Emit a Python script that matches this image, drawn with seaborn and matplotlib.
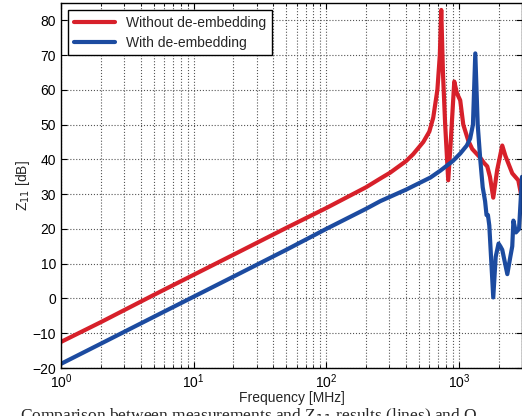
import numpy as np
import pandas as pd
import matplotlib
matplotlib.use("Agg")
import matplotlib.pyplot as plt
from matplotlib.ticker import LogLocator, MultipleLocator, NullFormatter
import seaborn as sns

# Input impedance Z11 versus frequency, before and after de-embedding
freq_without = [1, 2, 5, 10, 20, 50, 100, 200, 256, 304, 400, 453, 540, 600, 642,
                690, 720, 738, 760, 790, 833, 870, 925, 970, 1026, 1082, 1180,
                1264, 1453, 1550, 1641, 1720, 1821, 1950, 2129, 2250, 2533, 2813,
                2950, 3000]
z11_without = [-12.5, -6.8, 1.0, 6.8, 12.6, 20.3, 26.0, 32.0, 34.5, 36.2, 39.5,
               41.5, 45.0, 48.0, 52.0, 60.0, 70.0, 83.0, 65.0, 50.0, 34.0, 45.0,
               62.4, 59.0, 57.0, 50.0, 45.4, 43.0, 40.5, 39.0, 38.0, 35.0, 29.0,
               37.0, 44.0, 41.0, 36.0, 34.0, 30.0, 31.0]

freq_with = [1, 2, 5, 10, 20, 50, 100, 200, 256, 400, 612, 728, 900, 1026, 1150,
             1219, 1280, 1333, 1390, 1453, 1516, 1580, 1620, 1660, 1700, 1821,
             1900, 1997, 2060, 2129, 2325, 2450, 2533, 2584, 2700, 2850, 3000]
z11_with = [-18.8, -13.0, -5.3, 0.5, 6.3, 14.0, 20.0, 25.8, 28.0, 31.3, 34.8,
            36.8, 39.5, 41.7, 44.0, 46.0, 50.0, 70.5, 50.0, 40.0, 32.0, 28.0,
            24.0, 24.0, 21.0, 0.3, 12.0, 15.8, 15.0, 14.0, 7.0, 12.0, 15.0, 22.4,
            19.0, 20.0, 35.0]

labels = ["Without de-embedding", "With de-embedding"]
colors = ["#D7202A", "#1C4BA0"]

df = pd.concat([
    pd.DataFrame({"Frequency": freq_without, "Z11": z11_without, "series": labels[0]}),
    pd.DataFrame({"Frequency": freq_with, "Z11": z11_with, "series": labels[1]}),
])

sns.set_theme(style="ticks")
plt.rcParams["font.family"] = ["Liberation Sans", "DejaVu Sans"]

fig = plt.figure(figsize=(5.22, 4.16), dpi=100)
ax = fig.add_axes([61 / 522, 1 - 368 / 416, 1 - 61 / 522, (368 - 3) / 416])
ax.set_xscale("log")

sns.lineplot(data=df, x="Frequency", y="Z11", hue="series", hue_order=labels,
             palette=colors, linewidth=3, ax=ax, sort=False)

ax.set_xlim(1, 3000)
ax.set_ylim(-20, 85)
ax.yaxis.set_major_locator(MultipleLocator(10))
ax.xaxis.set_major_locator(LogLocator(base=10))
ax.xaxis.set_minor_locator(LogLocator(base=10, subs=np.arange(2, 10)))
ax.xaxis.set_minor_formatter(NullFormatter())

ax.grid(which="major", axis="both", linestyle=":", color="#555555", linewidth=0.8)
ax.grid(which="minor", axis="x", linestyle=":", color="#555555", linewidth=0.8)

ax.tick_params(which="both", direction="in", top=True, right=True,
               labelsize=10, colors="black")
ax.tick_params(which="major", length=4, width=0.8)
ax.tick_params(which="minor", length=2.5, width=0.6)
for side in ["left", "bottom", "top", "right"]:
    ax.spines[side].set_color("black")
    ax.spines[side].set_linewidth(1.0)

ax.set_xlabel("Frequency [MHz]", fontsize=10, labelpad=0)
ax.set_ylabel("Z$_{11}$ [dB]", fontsize=10, labelpad=0)

leg = ax.legend(loc="upper left", fontsize=10, frameon=True, fancybox=False,
                edgecolor="black", framealpha=1, handlelength=3.0,
                borderaxespad=0.5, borderpad=0.4, labelspacing=0.45)
leg.get_frame().set_linewidth(1.0)

fig.text(20 / 522, 1 - 406 / 416,
         "Comparison between measurements and Z$_{11}$ results (lines) and Q",
         fontsize=12.5, family=["Liberation Serif", "DejaVu Serif"], va="top", ha="left")

fig.savefig("out.png", dpi=100)
